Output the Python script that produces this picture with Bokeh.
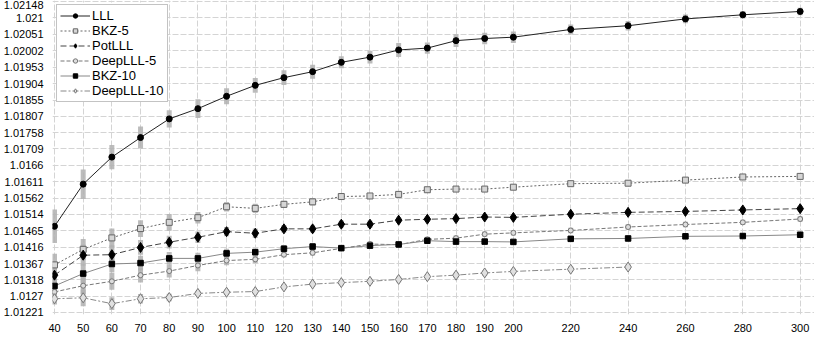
from bokeh.plotting import figure
from bokeh.models import FixedTicker, Range1d, Legend, LegendItem
from bokeh.embed import file_html
from bokeh.resources import INLINE

# ---------------- data ----------------
x_all = [40, 50, 60, 70, 80, 90, 100, 110, 120, 130, 140, 150, 160, 170, 180, 190, 200, 220, 240, 260, 280, 300]
x_deep10 = [40, 50, 60, 70, 80, 90, 100, 110, 120, 130, 140, 150, 160, 170, 180, 190, 200, 220, 240]

lll = [1.014781, 1.01604, 1.016847, 1.01743, 1.017987, 1.018293, 1.018662, 1.018988, 1.019218, 1.019396,
       1.019675, 1.01983, 1.020044, 1.0201, 1.020322, 1.020386, 1.020425, 1.020656, 1.020767, 1.02097,
       1.021093, 1.021193]
lll_err = [0.0005, 0.00044, 0.00036, 0.00033, 0.00026, 0.00028, 0.00024, 0.00022, 0.00022, 0.00021,
           0.00018, 0.00019, 0.00021, 0.00017, 0.00019, 0.00017, 0.00017, 0.00015, 0.00014, 0.00013,
           0.00011, 0.00011]

bkz5 = [1.01363, 1.014094, 1.014436, 1.014714, 1.0149, 1.015039, 1.015365, 1.015317, 1.015437, 1.015512,
        1.01567, 1.015687, 1.015734, 1.015873, 1.015893, 1.015893, 1.015949, 1.016054, 1.016068, 1.01616,
        1.016254, 1.016271]
bkz5_err = [0.00033, 0.00031, 0.00028, 0.00025, 0.00025, 0.00017, 0.00014, 0.00014, 0.00011, 0.00011,
            0.00008, 0.00008, 0.00008, 0.00008, 0.00008, 0.00008, 0.00008, 0.00008, 0.00008, 0.00008,
            0.00008, 0.00008]

potlll = [1.013324, 1.013919, 1.013935, 1.01415, 1.014308, 1.014455, 1.014622, 1.014575, 1.014706, 1.014706,
          1.014845, 1.014845, 1.014964, 1.014992, 1.015011, 1.015059, 1.015048, 1.015142, 1.015198, 1.015226,
          1.01527, 1.015309]
potlll_err = [0.00033, 0.00031, 0.00028, 0.00022, 0.00019, 0.00017, 0.00014, 0.00014, 0.00011, 0.00011,
              0.00011, 0.00011, 0.00008, 0.00008, 0.00008, 0.00008, 0.00008, 0.00008, 0.00008, 0.00008,
              0.00008, 0.00008]

deep5 = [1.012823, 1.013009, 1.01314, 1.013324, 1.013446, 1.013613, 1.01376, 1.013796, 1.013935, 1.013991,
         1.014122, 1.014252, 1.014233, 1.014391, 1.014428, 1.014547, 1.014586, 1.014658, 1.014761, 1.014836,
         1.0149, 1.015]
deep5_err = [0.00022, 0.00025, 0.00025, 0.00022, 0.00019, 0.00017, 0.00014, 0.00011, 0.00008, 0.00008,
             0.00008, 0.00008, 0.00008, 0.00008, 0.00008, 0.00008, 0.00008, 0.00008, 0.00008, 0.00008,
             0.00008, 0.00008]

bkz10 = [1.013001, 1.013371, 1.013657, 1.013685, 1.013824, 1.013824, 1.013974, 1.01401, 1.014113, 1.014177,
         1.01413, 1.014205, 1.014241, 1.014352, 1.014325, 1.014325, 1.014316, 1.014408, 1.014419, 1.014483,
         1.014492, 1.01453]
bkz10_err = [0.00028, 0.00028, 0.00025, 0.00022, 0.00019, 0.00017, 0.00014, 0.00011, 0.00011, 0.00011,
             0.00008, 0.00008, 0.00008, 0.00008, 0.00008, 0.00008, 0.00008, 0.00008, 0.00008, 0.00008,
             0.00008, 0.00008]

deep10 = [1.01262, 1.012648, 1.012473, 1.01262, 1.012656, 1.012779, 1.012815, 1.012834, 1.012973, 1.013057,
          1.013101, 1.01314, 1.013196, 1.013279, 1.013324, 1.01339, 1.013435, 1.013502, 1.013566]
deep10_err = [0.00017, 0.00025, 0.00019, 0.00014, 0.00011, 0.00008, 0.00008, 0.00008, 0.00008, 0.00008,
              0.00008, 0.00008, 0.00008, 0.00008, 0.00008, 0.00008, 0.00008, 0.00008, 0.00008]

x_ticks = [40, 50, 60, 70, 80, 90, 100, 110, 120, 130, 140, 150, 160, 170, 180, 190, 200, 220, 240, 260, 280, 300]
y_tick_labels = ["1.01172", "1.01221", "1.0127", "1.01318", "1.01367", "1.01416", "1.01465", "1.01514",
                 "1.01562", "1.01611", "1.0166", "1.01709", "1.01758", "1.01807", "1.01855", "1.01904",
                 "1.01953", "1.02002", "1.02051", "1.021", "1.02148"]

series_names = ["LLL", "BKZ-5", "PotLLL", "DeepLLL-5", "BKZ-10", "DeepLLL-10"]

# ---------------- figure ----------------
FONT = "Liberation Sans"
p = figure(width=814, height=334, output_backend="svg", toolbar_location=None,
           x_range=Range1d(39.3, 305), y_range=Range1d(1.01215, 1.02152),
           min_border_left=0, min_border_right=0, min_border_top=0, min_border_bottom=0)
p.outline_line_color = None
p.background_fill_color = "white"

y_ticks = [float(s) for s in y_tick_labels]
p.yaxis.ticker = FixedTicker(ticks=y_ticks)
p.yaxis.major_label_overrides = {t: s for t, s in zip(y_ticks, y_tick_labels)}
p.xaxis.ticker = FixedTicker(ticks=x_ticks)

for ax in (p.xaxis, p.yaxis):
    ax.axis_line_color = None
    ax.major_tick_line_color = None
    ax.minor_tick_line_color = None
    ax.major_label_text_font = FONT
    ax.major_label_text_color = "#000000"
    ax.major_label_standoff = 3
p.yaxis.major_label_text_font_size = "11px"
p.xaxis.major_label_text_font_size = "11px"

for g in (p.xgrid, p.ygrid):
    g.grid_line_color = "#d4d4d4"
    g.grid_line_dash = "6 2"
    g.grid_line_width = 1

styles = {
    "LLL":        dict(dash="solid",   lc="#222222", marker="circle",  size=6,   fill="#000000", mline="#000000"),
    "BKZ-5":      dict(dash="2 2",     lc="#666666", marker="square",  size=6,   fill="#d6d6d6", mline="#666666"),
    "PotLLL":     dict(dash="6 3",     lc="#444444", marker="diamond", size=10,  fill="#000000", mline="#000000"),
    "DeepLLL-5":  dict(dash="4 2",     lc="#777777", marker="circle",  size=5,   fill="#dddddd", mline="#777777"),
    "BKZ-10":     dict(dash="solid",   lc="#888888", marker="square",  size=5.5, fill="#000000", mline="#000000"),
    "DeepLLL-10": dict(dash="6 2 2 2", lc="#888888", marker="diamond", size=10,  fill="#e0e0e0", mline="#777777"),
}

data = {
    "LLL": (x_all, lll, lll_err),
    "BKZ-5": (x_all, bkz5, bkz5_err),
    "PotLLL": (x_all, potlll, potlll_err),
    "DeepLLL-5": (x_all, deep5, deep5_err),
    "BKZ-10": (x_all, bkz10, bkz10_err),
    "DeepLLL-10": (x_deep10, deep10, deep10_err),
}

# error bars first (behind)
for name in series_names:
    xs, ys, es = data[name]
    p.segment(x0=xs, y0=[y - e for y, e in zip(ys, es)], x1=xs, y1=[y + e for y, e in zip(ys, es)],
              line_width=5, line_color="#b0b0b0", line_alpha=0.85)

items = []
for name in series_names:
    xs, ys, es = data[name]
    st = styles[name]
    ln = p.line(xs, ys, line_color=st["lc"], line_width=1, line_dash=st["dash"])
    sc = p.scatter(xs, ys, marker=st["marker"], size=st["size"],
                   fill_color=st["fill"], line_color=st["mline"], line_width=1)
    items.append(LegendItem(label=name, renderers=[ln, sc]))

legend = Legend(items=items, location="top_left")
legend.label_text_font = FONT
legend.label_text_font_size = "13px"
legend.label_text_color = "#000000"
legend.label_height = 11
legend.glyph_height = 11
legend.glyph_width = 30
legend.label_standoff = 2
legend.spacing = 0
legend.padding = 3
legend.margin = 4
legend.border_line_color = "#888888"
legend.border_line_width = 1
legend.background_fill_color = "white"
legend.background_fill_alpha = 1.0
p.add_layout(legend)

open("out.html", "w").write(file_html(p, INLINE))
